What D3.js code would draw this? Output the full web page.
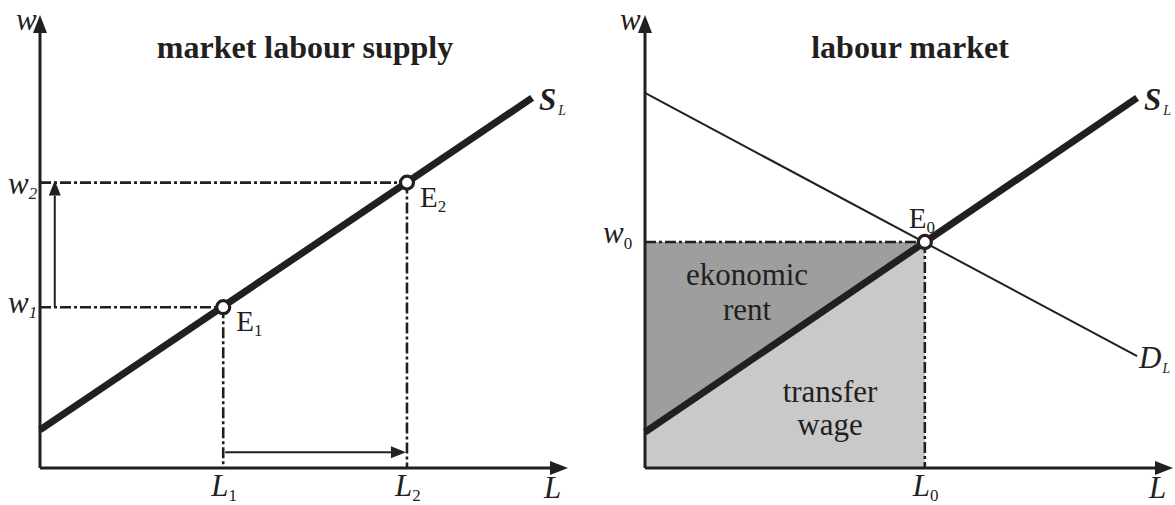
<!DOCTYPE html>
<html>
<head>
<meta charset="utf-8">
<script src="https://cdn.jsdelivr.net/npm/d3@7"></script>
<style>
  html, body { margin: 0; padding: 0; background: #fff; }
  svg text { font-family: "Liberation Serif", "Times New Roman", serif; fill: #231f20; }
</style>
</head>
<body>
<svg id="chart" width="1175" height="505"></svg>
<script>
// values in abstract units (L on x, w on y), both axes 0..10
const leftSupply = [[0, 0.84], [9.32, 8.17]];
const leftL = [3.47, 6.95];          // L1, L2
const leftW = [3.55, 6.3];           // w1, w2
const leftArrowUp = { x: 0.28, from: 3.55, to: 6.3 };
const leftArrowRight = { y: 0.35, from: 3.47, to: 6.95 };

const rightSupply = [[0, 0.79], [9.32, 8.17]];
const rightDemand = [[0, 8.28], [9.32, 2.47]];
const eq0 = [5.3, 4.99];             // L0, w0

const titles = ["market labour supply", "labour market"];

const ink = "#231f20";
const svg = d3.select("#chart");

function panel(x0, x1) {
    const x = d3.scaleLinear().domain([0, 10]).range([x0, x1]);
    const y = d3.scaleLinear().domain([0, 10]).range([468, 15]);
    return { x, y };
}

const left = panel(40, 568);
const right = panel(645, 1173);

const line = (p) => d3.line().x(d => p.x(d[0])).y(d => p.y(d[1]));

function dashDot(g, pts) {
    g.append("path")
        .attr("d", d3.line()(pts))
        .attr("fill", "none")
        .attr("stroke", ink)
        .attr("stroke-width", 2.6)
        .attr("stroke-dasharray", "11,3,3,3");
}

function axes(g, p) {
    const ox = p.x(0), oy = p.y(0), tx = p.x(10), ty = p.y(10);
    g.append("path").attr("d", `M${ox},${oy}H${tx - 12}`).attr("stroke", ink).attr("stroke-width", 3);
    g.append("path").attr("d", `M${ox},${oy}V${ty + 12}`).attr("stroke", ink).attr("stroke-width", 3);
    g.append("path").attr("d", `M${tx},${oy}L${tx - 18},${oy - 7}L${tx - 18},${oy + 7}Z`).attr("fill", ink);
    g.append("path").attr("d", `M${ox},${ty}L${ox - 7},${ty + 18}L${ox + 7},${ty + 18}Z`).attr("fill", ink);
}

function arrow(g, x1, y1, x2, y2) {
    const a = Math.atan2(y2 - y1, x2 - x1);
    const len = 15, hw = 6;
    const bx = x2 - len * Math.cos(a), by = y2 - len * Math.sin(a);
    g.append("path").attr("d", `M${x1},${y1}L${bx},${by}`).attr("stroke", ink).attr("stroke-width", 2);
    g.append("path")
        .attr("d", `M${x2},${y2}L${bx - hw * Math.sin(a)},${by + hw * Math.cos(a)}L${bx + hw * Math.sin(a)},${by - hw * Math.cos(a)}Z`)
        .attr("fill", ink);
}

function point(g, p, d) {
    g.append("circle")
        .attr("cx", p.x(d[0])).attr("cy", p.y(d[1])).attr("r", 6.5)
        .attr("fill", "#fff").attr("stroke", ink).attr("stroke-width", 3.2);
}

// label with subscript
function label(g, x, y, main, sub, o = {}) {
    const t = g.append("text").attr("x", x).attr("y", y)
        .style("font-size", (o.size || 31) + "px")
        .style("font-style", o.italic ? "italic" : "normal")
        .style("font-weight", o.bold ? "bold" : "normal");
    t.append("tspan").text(main);
    if (sub) {
        t.append("tspan")
            .attr("dy", o.subDy || 6)
            .attr("dx", o.subDx || 0)
            .style("font-size", (o.subSize || 17) + "px")
            .style("font-style", o.subItalic ? "italic" : "normal")
            .style("font-weight", "normal")
            .text(sub);
    }
    return t;
}

// ---------- left panel ----------
const gL = svg.append("g");
const sL = left;
leftW.forEach((w, i) => {
    const L = leftL[i];
    dashDot(gL, [[sL.x(0), sL.y(w)], [sL.x(L), sL.y(w)]]);
    dashDot(gL, [[sL.x(L), sL.y(w)], [sL.x(L), sL.y(0)]]);
});
axes(gL, sL);
arrow(gL, sL.x(leftArrowUp.x), sL.y(leftArrowUp.from), sL.x(leftArrowUp.x), sL.y(leftArrowUp.to) - 2);
arrow(gL, sL.x(leftArrowRight.from) + 2, sL.y(leftArrowRight.y), sL.x(leftArrowRight.to) - 1, sL.y(leftArrowRight.y));
gL.append("path").attr("d", line(sL)(leftSupply)).attr("fill", "none")
    .attr("stroke", ink).attr("stroke-width", 7);
point(gL, sL, [leftL[0], leftW[0]]);
point(gL, sL, [leftL[1], leftW[1]]);

gL.append("text").attr("x", 305).attr("y", 58).attr("text-anchor", "middle")
    .style("font-size", "32px").style("font-weight", "bold").text(titles[0]);

label(gL, 16, 30, "w", null, { italic: true });
label(gL, 8, sL.y(leftW[1]) + 11, "w", "2", { italic: true, subItalic: true, subDy: 5 });
label(gL, 8, sL.y(leftW[0]) + 6, "w", "1", { italic: true, subItalic: true, subDy: 5 });
label(gL, sL.x(leftL[0]) + 13, sL.y(leftW[0]) + 24, "E", "1", { size: 29, subDy: 5 });
label(gL, sL.x(leftL[1]) + 13, sL.y(leftW[1]) + 24, "E", "2", { size: 29, subDy: 5 });
label(gL, sL.x(leftL[0]) - 12, 496, "L", "1", { italic: true, subDy: 5 });
label(gL, sL.x(leftL[1]) - 12, 496, "L", "2", { italic: true, subDy: 5 });
label(gL, 544, 498, "L", null, { italic: true });
label(gL, sL.x(leftSupply[1][0]) + 7, 110, "S", "L", { italic: true, bold: true, subItalic: true, subSize: 14, subDy: 5, subDx: 2 });

// ---------- right panel ----------
const gR = svg.append("g");
const sR = right;
// economic rent (above supply, below w0)
gR.append("path")
    .attr("d", line(sR)([[0, eq0[1]], eq0, rightSupply[0]]) + "Z")
    .attr("fill", "#9d9e9d");
// transfer wage (below supply)
gR.append("path")
    .attr("d", line(sR)([rightSupply[0], eq0, [eq0[0], 0], [0, 0]]) + "Z")
    .attr("fill", "#c8c9c8");
dashDot(gR, [[sR.x(0), sR.y(eq0[1])], [sR.x(eq0[0]), sR.y(eq0[1])]]);
dashDot(gR, [[sR.x(eq0[0]), sR.y(eq0[1])], [sR.x(eq0[0]), sR.y(0)]]);
axes(gR, sR);
gR.append("path").attr("d", line(sR)(rightDemand)).attr("fill", "none")
    .attr("stroke", ink).attr("stroke-width", 2);
gR.append("path").attr("d", line(sR)(rightSupply)).attr("fill", "none")
    .attr("stroke", ink).attr("stroke-width", 7);
point(gR, sR, eq0);

gR.append("text").attr("x", 910).attr("y", 58).attr("text-anchor", "middle")
    .style("font-size", "32px").style("font-weight", "bold").text(titles[1]);

[["ekonomic", 747, 285], ["rent", 747, 320], ["transfer", 830, 402], ["wage", 830, 435]].forEach(([t, x, y]) => {
    gR.append("text").attr("x", x).attr("y", y).attr("text-anchor", "middle")
        .style("font-size", "31px").text(t);
});

label(gR, 620, 30, "w", null, { italic: true });
label(gR, 603, sR.y(eq0[1]) + 1, "w", "0", { italic: true, subDy: 6 });
label(gR, sR.x(eq0[0]) - 16, sR.y(eq0[1]) - 14, "E", "0", { size: 29, subDy: 5 });
label(gR, sR.x(eq0[0]) - 12, 496, "L", "0", { italic: true, subDy: 5 });
label(gR, 1149, 498, "L", null, { italic: true });
label(gR, sR.x(rightSupply[1][0]) + 7, 110, "S", "L", { italic: true, bold: true, subItalic: true, subSize: 14, subDy: 5, subDx: 2 });
label(gR, sR.x(rightDemand[1][0]) + 2, 368, "D", "L", { italic: true, subItalic: true, subSize: 14, subDy: 5, subDx: 1 });
</script>
</body>
</html>
